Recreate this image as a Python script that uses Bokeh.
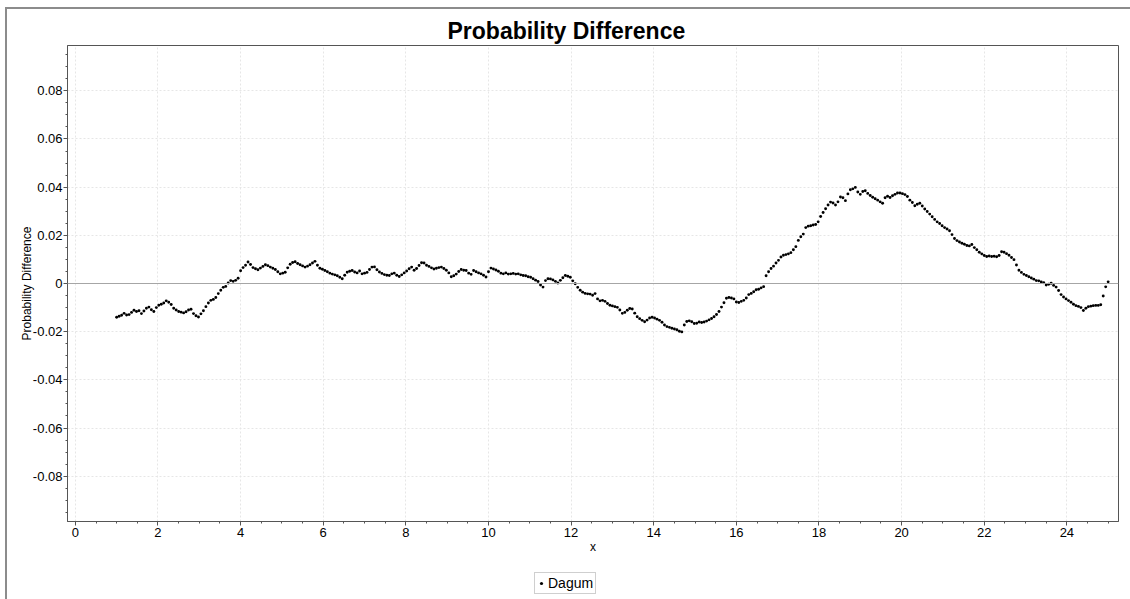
import numpy as np
from bokeh.plotting import figure
from bokeh.layouts import column
from bokeh.models import (Range1d, FixedTicker, NumeralTickFormatter, Span,
                          Legend, LegendItem, ColumnDataSource)
from bokeh.embed import file_html
from bokeh.resources import INLINE

# ---- data -------------------------------------------------------------
x_first, x_last = 1.0, 25.0
x_tick_values = [0, 2, 4, 6, 8, 10, 12, 14, 16, 18, 20, 22, 24]
y_tick_values = [-0.08, -0.06, -0.04, -0.02, 0.0, 0.02, 0.04, 0.06, 0.08]
series_name = "Dagum"

# probability difference, evenly sampled between x_first and x_last
dagum_diff = [
    -0.0140, -0.0136, -0.0132, -0.0124, -0.0131, -0.0129, -0.0120, -0.0111, -0.0116, -0.0113,
    -0.0125, -0.0114, -0.0103, -0.0098, -0.0109, -0.0116, -0.0100, -0.0090, -0.0086, -0.0081,
    -0.0072, -0.0078, -0.0087, -0.0103, -0.0110, -0.0116, -0.0119, -0.0122, -0.0117, -0.0110,
    -0.0107, -0.0125, -0.0134, -0.0139, -0.0126, -0.0113, -0.0096, -0.0081, -0.0070, -0.0066,
    -0.0058, -0.0042, -0.0028, -0.0016, -0.0012, 0.0002, 0.0012, 0.0009, 0.0013, 0.0022,
    0.0053, 0.0066, 0.0076, 0.0089, 0.0079, 0.0066, 0.0061, 0.0057, 0.0064, 0.0071,
    0.0078, 0.0074, 0.0068, 0.0063, 0.0058, 0.0049, 0.0040, 0.0043, 0.0047, 0.0065,
    0.0080, 0.0087, 0.0090, 0.0083, 0.0078, 0.0073, 0.0068, 0.0072, 0.0078, 0.0085,
    0.0092, 0.0076, 0.0063, 0.0059, 0.0054, 0.0049, 0.0043, 0.0039, 0.0036, 0.0032,
    0.0026, 0.0020, 0.0034, 0.0047, 0.0051, 0.0054, 0.0048, 0.0044, 0.0052, 0.0040,
    0.0043, 0.0046, 0.0058, 0.0068, 0.0069, 0.0057, 0.0048, 0.0042, 0.0037, 0.0034,
    0.0033, 0.0040, 0.0043, 0.0034, 0.0029, 0.0036, 0.0044, 0.0052, 0.0061, 0.0068,
    0.0055, 0.0062, 0.0075, 0.0086, 0.0085, 0.0076, 0.0071, 0.0065, 0.0060, 0.0063,
    0.0066, 0.0068, 0.0062, 0.0055, 0.0044, 0.0028, 0.0032, 0.0039, 0.0050, 0.0058,
    0.0055, 0.0054, 0.0043, 0.0038, 0.0054, 0.0049, 0.0044, 0.0040, 0.0034, 0.0027,
    0.0049, 0.0064, 0.0060, 0.0056, 0.0051, 0.0043, 0.0040, 0.0044, 0.0039, 0.0040,
    0.0042, 0.0039, 0.0040, 0.0036, 0.0033, 0.0032, 0.0028, 0.0026, 0.0020, 0.0014,
    0.0008, -0.0006, -0.0015, 0.0012, 0.0020, 0.0019, 0.0015, 0.0009, 0.0002, 0.0013,
    0.0024, 0.0033, 0.0030, 0.0026, 0.0011, -0.0001, -0.0016, -0.0028, -0.0036, -0.0041,
    -0.0043, -0.0044, -0.0049, -0.0042, -0.0064, -0.0072, -0.0070, -0.0074, -0.0083, -0.0090,
    -0.0093, -0.0096, -0.0099, -0.0110, -0.0124, -0.0120, -0.0111, -0.0104, -0.0106, -0.0123,
    -0.0138, -0.0146, -0.0153, -0.0159, -0.0152, -0.0143, -0.0140, -0.0143, -0.0148, -0.0153,
    -0.0161, -0.0172, -0.0179, -0.0182, -0.0186, -0.0189, -0.0192, -0.0198, -0.0201, -0.0172,
    -0.0158, -0.0155, -0.0159, -0.0166, -0.0165, -0.0160, -0.0162, -0.0160, -0.0156, -0.0151,
    -0.0145, -0.0138, -0.0129, -0.0116, -0.0098, -0.0080, -0.0061, -0.0058, -0.0060, -0.0064,
    -0.0077, -0.0079, -0.0074, -0.0070, -0.0060, -0.0046, -0.0041, -0.0034, -0.0026, -0.0024,
    -0.0018, -0.0013, 0.0032, 0.0049, 0.0062, 0.0072, 0.0085, 0.0096, 0.0110, 0.0117,
    0.0120, 0.0123, 0.0128, 0.0140, 0.0153, 0.0179, 0.0194, 0.0205, 0.0232, 0.0238,
    0.0240, 0.0243, 0.0245, 0.0256, 0.0278, 0.0295, 0.0310, 0.0326, 0.0338, 0.0334,
    0.0326, 0.0339, 0.0359, 0.0356, 0.0344, 0.0372, 0.0389, 0.0393, 0.0399, 0.0380,
    0.0370, 0.0382, 0.0385, 0.0374, 0.0365, 0.0358, 0.0352, 0.0346, 0.0339, 0.0333,
    0.0356, 0.0362, 0.0357, 0.0364, 0.0370, 0.0376, 0.0376, 0.0373, 0.0369, 0.0361,
    0.0346, 0.0336, 0.0323, 0.0329, 0.0333, 0.0322, 0.0309, 0.0299, 0.0288, 0.0277,
    0.0266, 0.0256, 0.0249, 0.0240, 0.0232, 0.0226, 0.0219, 0.0203, 0.0187, 0.0178,
    0.0172, 0.0167, 0.0163, 0.0158, 0.0156, 0.0162, 0.0149, 0.0140, 0.0130, 0.0123,
    0.0116, 0.0112, 0.0114, 0.0112, 0.0113, 0.0111, 0.0116, 0.0132, 0.0130, 0.0124,
    0.0117, 0.0108, 0.0099, 0.0077, 0.0055, 0.0046, 0.0038, 0.0033, 0.0028, 0.0023,
    0.0018, 0.0012, 0.0011, 0.0006, 0.0003, -0.0006, -0.0003, 0.0001, -0.0008, -0.0015,
    -0.0029, -0.0046, -0.0056, -0.0064, -0.0071, -0.0078, -0.0086, -0.0092, -0.0095, -0.0100,
    -0.0112, -0.0103, -0.0096, -0.0094, -0.0092, -0.0091, -0.0091, -0.0088, -0.0052, -0.0014,
    0.0007,
]
x_values = np.linspace(x_first, x_last, len(dagum_diff))

# ---- main chart -------------------------------------------------------
FONT = "Liberation Sans"
AXIS_GREY = "#555555"
PANEL_W = 1123
MARKER = dict(marker="circle", size=2.9, fill_color="black", line_color=None)

p = figure(
    width=PANEL_W, height=552,
    output_backend="svg", toolbar_location=None,
    x_range=Range1d(-0.19, 25.25), y_range=Range1d(-0.0988, 0.0988),
    min_border_left=60, min_border_right=12, min_border_top=36, min_border_bottom=40,
    background_fill_color="white", border_fill_color="white",
)

p.title.text = "Probability Difference"
p.title.text_font = FONT
p.title.text_font_size = "23px"
p.title.text_font_style = "bold"
p.title.text_color = "black"
p.title.align = "left"
p.title.offset = 380
p.title.standoff = 4

p.outline_line_color = AXIS_GREY
p.outline_line_width = 1

# axes
p.xaxis.axis_label = "x"
p.yaxis.axis_label = "Probability Difference"
p.xaxis.ticker = FixedTicker(ticks=x_tick_values,
                             minor_ticks=list(np.arange(0, 25.01, 0.5)))
p.yaxis.ticker = FixedTicker(ticks=y_tick_values,
                             minor_ticks=list(np.round(np.arange(-0.095, 0.0951, 0.005), 3)))
p.yaxis.formatter = NumeralTickFormatter(format="0.[00]")

for ax in (p.xaxis, p.yaxis):
    ax.axis_line_color = AXIS_GREY
    ax.major_tick_line_color = AXIS_GREY
    ax.minor_tick_line_color = AXIS_GREY
    ax.major_tick_out = 4
    ax.major_tick_in = 0
    ax.minor_tick_out = 2
    ax.minor_tick_in = 0
    ax.major_label_text_font = FONT
    ax.major_label_text_font_size = "13px"
    ax.major_label_text_color = "black"
    ax.axis_label_text_font = FONT
    ax.axis_label_text_font_size = "12px"
    ax.axis_label_text_font_style = "normal"
    ax.axis_label_text_color = "black"
p.xaxis.axis_label_standoff = 0
p.yaxis.axis_label_standoff = -4
p.xaxis.major_label_standoff = 2
p.yaxis.major_label_standoff = 1

# grid
for g in (p.xgrid, p.ygrid):
    g.grid_line_color = "#e6e6e6"
    g.grid_line_dash = "2 2"
    g.grid_line_width = 1
p.xgrid.ticker = p.xaxis.ticker
p.ygrid.ticker = p.yaxis.ticker

# zero reference line
p.add_layout(Span(location=0, dimension="width", line_color="#a6a6a6", line_width=1))

# points
src = ColumnDataSource(dict(x=x_values, y=dagum_diff))
p.scatter("x", "y", source=src, **MARKER)

# ---- legend strip under the chart --------------------------------------
q = figure(
    width=PANEL_W, height=38,
    output_backend="svg", toolbar_location=None,
    x_range=Range1d(-2, -1), y_range=Range1d(-2, -1),
    x_axis_type=None, y_axis_type=None,
    min_border_left=0, min_border_right=0, min_border_top=0, min_border_bottom=0,
    background_fill_color="white", border_fill_color="white",
)
q.outline_line_color = None
q.grid.visible = False
# same series, only used for its legend key (the strip's ranges hold no data)
key = q.scatter("x", "y", source=src, **MARKER)

legend = Legend(items=[LegendItem(label=series_name, renderers=[key])],
                location=(467, 5), orientation="horizontal")
legend.label_text_font = FONT
legend.label_text_font_size = "14px"
legend.label_text_color = "black"
legend.border_line_color = "#a0a0a0"
legend.border_line_width = 1
legend.background_fill_color = "white"
legend.background_fill_alpha = 1.0
legend.padding = 2
legend.margin = 0
legend.glyph_width = 8
legend.glyph_height = 14
legend.label_standoff = 3
legend.label_height = 14
q.add_layout(legend)

layout = column(p, q, spacing=0,
                styles={"margin-left": "5px", "margin-top": "7px",
                        "border-left": "2px solid #8c8c8c",
                        "border-top": "2px solid #8c8c8c"})

open("out.html", "w").write(file_html(layout, INLINE))
